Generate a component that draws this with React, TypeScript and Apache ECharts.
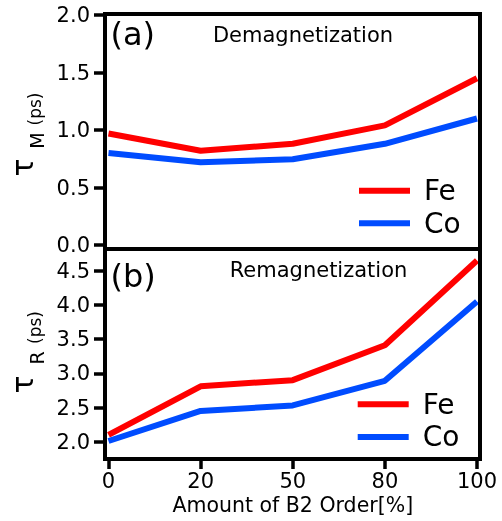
import React, { useEffect, useRef } from 'react';
import * as echarts from 'echarts';

const categories = ['0', '20', '50', '80', '100'];
const feDemag = [0.97, 0.82, 0.88, 1.04, 1.45];
const coDemag = [0.8, 0.72, 0.745, 0.88, 1.1];
const feRemag = [2.1, 2.81, 2.9, 3.41, 4.65];
const coRemag = [2.01, 2.45, 2.53, 2.89, 4.05];
const seriesNames = ['Fe', 'Co'];
const panelTitles = ['Demagnetization', 'Remagnetization'];
const panelLabels = ['(a)', '(b)'];
const yNames = [
  ['τ', 'M', '(ps)'],
  ['τ', 'R', '(ps)'],
];
const xAxisTitle = 'Amount of B2 Order[%]';

const FONT = 'DejaVu Sans';
const RED = '#ff0000';
const BLUE = '#004cff';
const BLACK = '#000000';

function txt(x: number, y: number, text: string, size: number, align: string, rotation = 0) {
  return {
    type: 'text',
    x,
    y,
    rotation,
    z: 20,
    style: {
      text,
      fontSize: size,
      fontFamily: FONT,
      fill: BLACK,
      align,
      verticalAlign: 'middle',
    },
  };
}

export default function App() {
  const ref = useRef<HTMLDivElement>(null);
  useEffect(() => {
    if (!ref.current) return;
    const chart = echarts.init(ref.current, undefined, { renderer: 'svg' });
    const xAxisCommon = {
      type: 'category',
      data: categories,
      boundaryGap: false,
    };
    const yAxisCommon = {
      type: 'value',
      interval: 0.5,
      offset: 3.5,
      splitLine: { show: false },
      axisLine: { show: true, lineStyle: { color: BLACK, width: 4 } },
      axisTick: { show: true, length: 11, lineStyle: { color: BLACK, width: 3.5 } },
      axisLabel: {
        fontSize: 21,
        fontFamily: FONT,
        color: BLACK,
        margin: 15,
        formatter: (v: number) => v.toFixed(1),
      },
    };
    const lineSeries = (name: string, data: number[], color: string, idx: number) => ({
      type: 'line',
      name,
      data,
      xAxisIndex: idx,
      yAxisIndex: idx,
      symbol: 'none',
      showSymbol: false,
      clip: false,
      color,
      itemStyle: { color },
      lineStyle: { color, width: 6 },
      z: 5,
    });
    const legendCommon = {
      data: seriesNames,
      orient: 'vertical',
      icon: 'rect',
      itemWidth: 51,
      itemHeight: 6,
      itemGap: 2.6,
      padding: 0,
      selectedMode: false,
      textStyle: {
        fontSize: 28,
        fontFamily: FONT,
        color: BLACK,
        lineHeight: 24,
        padding: [0, 0, 6, 9],
      },
    };
    chart.setOption({
      animation: false,
      textStyle: { fontFamily: FONT },
      grid: [
        { left: 108.5, top: 15, width: 368.5, height: 230 },
        { left: 108.5, top: 270.7, width: 368.5, height: 171 },
      ],
      xAxis: [
        { ...xAxisCommon, gridIndex: 0, show: false },
        {
          ...xAxisCommon,
          gridIndex: 1,
          offset: 17.3,
          axisLine: { show: true, lineStyle: { color: BLACK, width: 4 } },
          axisTick: { show: true, length: 10, lineStyle: { color: BLACK, width: 3.5 } },
          axisLabel: { fontSize: 21, fontFamily: FONT, color: BLACK, margin: 11.5 },
        },
      ],
      yAxis: [
        { ...yAxisCommon, gridIndex: 0, min: 0, max: 2 },
        { ...yAxisCommon, gridIndex: 1, min: 2, max: 4.5 },
      ],
      legend: [
        { ...legendCommon, left: 359, top: 175.7 },
        { ...legendCommon, left: 357.7, top: 389.3 },
      ],
      series: [
        lineSeries(seriesNames[0], feDemag, RED, 0),
        lineSeries(seriesNames[1], coDemag, BLUE, 0),
        lineSeries(seriesNames[0], feRemag, RED, 1),
        lineSeries(seriesNames[1], coRemag, BLUE, 1),
      ],
      graphic: [
        {
          type: 'rect',
          z: 10,
          shape: { x: 105, y: 14, width: 375, height: 235 },
          style: { fill: 'none', stroke: BLACK, lineWidth: 4 },
        },
        {
          type: 'rect',
          z: 10,
          shape: { x: 105, y: 249, width: 375, height: 210 },
          style: { fill: 'none', stroke: BLACK, lineWidth: 4 },
        },
        txt(110.5, 34, panelLabels[0], 32, 'left'),
        txt(110.5, 276, panelLabels[1], 32, 'left'),
        txt(303, 35, panelTitles[0], 21, 'center'),
        txt(318.5, 270, panelTitles[1], 21, 'center'),
        txt(292.8, 504.5, xAxisTitle, 20.5, 'center'),
        txt(22.5, 167.5, yNames[0][0], 30, 'center', Math.PI / 2),
        txt(36.8, 140.5, yNames[0][1], 19, 'center', Math.PI / 2),
        txt(35.2, 109, yNames[0][2], 17, 'center', Math.PI / 2),
        txt(22.5, 384.5, yNames[1][0], 30, 'center', Math.PI / 2),
        txt(36.8, 358, yNames[1][1], 19, 'center', Math.PI / 2),
        txt(35.2, 327.5, yNames[1][2], 17, 'center', Math.PI / 2),
      ],
    });
    return () => chart.dispose();
  }, []);
  return (
    <div
      ref={ref}
      style={{ position: 'fixed', left: 0, top: 0, width: 502, height: 521 }}
    />
  );
}
